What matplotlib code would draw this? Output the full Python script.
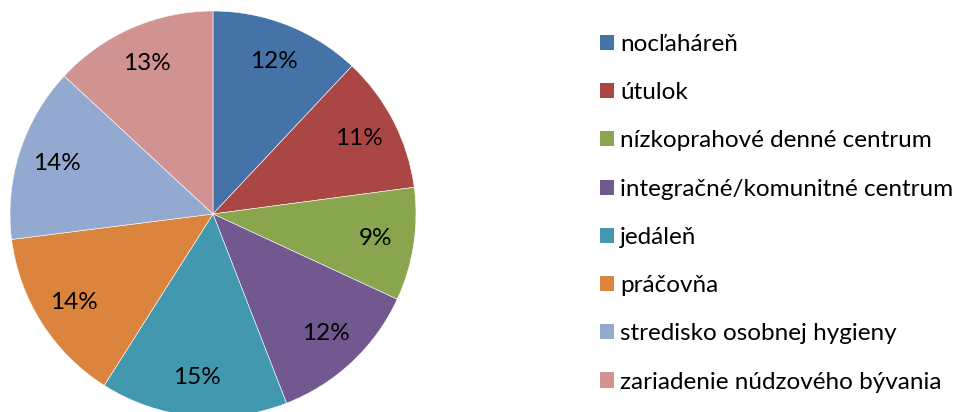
import matplotlib.pyplot as plt
from matplotlib.patches import Patch

plt.rcParams['font.family'] = ['Lato', 'DejaVu Sans']

# shares (labels show them rounded)
categories = ['nocľaháreň', 'útulok', 'nízkoprahové denné centrum',
              'integračné/komunitné centrum', 'jedáleň', 'práčovňa',
              'stredisko osobnej hygieny', 'zariadenie núdzového bývania']
shares = [12.0, 10.9, 9.0, 12.2, 14.9, 14.0, 13.9, 13.1]
colors = ['#4572A7', '#AA4643', '#89A54E', '#71588F',
          '#4198AF', '#DB843D', '#93A9CF', '#D19392']

fig = plt.figure(figsize=(9.64, 4.12), dpi=100)
ax = fig.add_axes([10 / 964, -5 / 412, 406 / 964, 406 / 412])

wedges, texts, autotexts = ax.pie(
    shares, colors=colors, startangle=90, counterclock=False,
    autopct='%.0f%%', pctdistance=0.81,
    wedgeprops=dict(edgecolor='white', linewidth=0.4),
    textprops=dict(fontsize=17.5, color='black'))
ax.set_xlim(-1, 1)
ax.set_ylim(-1, 1)
ax.set_aspect('equal')

handles = [Patch(facecolor=c, edgecolor='none') for c in colors]
fig.legend(handles, categories, loc='upper left',
           bbox_to_anchor=(600 / 964, 1 - 34 / 412), frameon=False,
           fontsize=17.5, handlelength=0.58, handleheight=0.58,
           handletextpad=0.25, labelspacing=1.12, borderpad=0,
           borderaxespad=0)

fig.savefig('out.png', dpi=100)
